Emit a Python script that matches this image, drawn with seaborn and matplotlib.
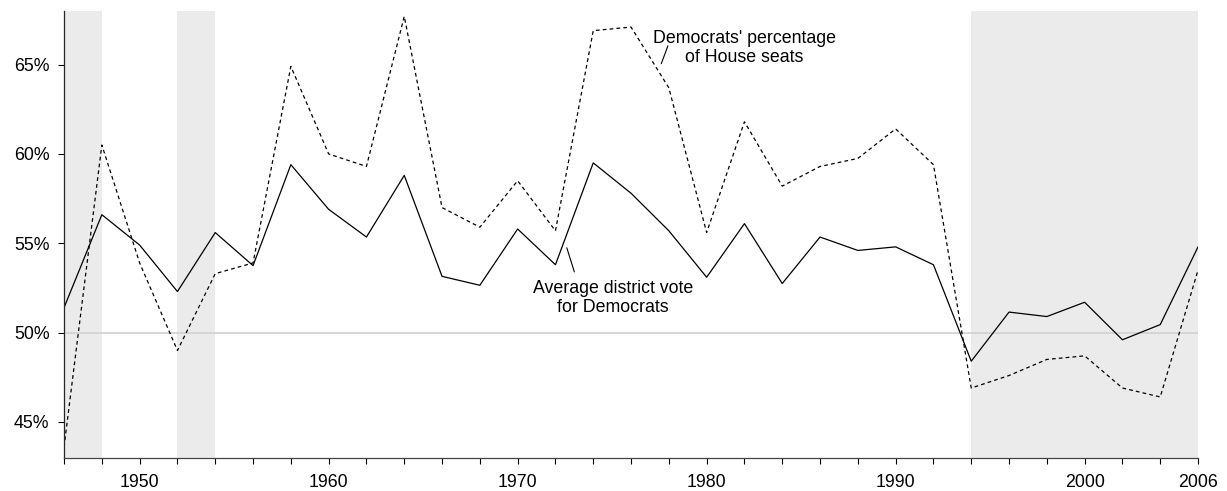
import numpy as np
import pandas as pd
import matplotlib
matplotlib.use('Agg')
import matplotlib.pyplot as plt
import seaborn as sns

years = list(range(1946, 2008, 2))
vote_pct = [51.4, 56.6, 54.9, 52.3, 55.6, 53.75, 59.4, 56.9, 55.35, 58.8,
            53.15, 52.65, 55.8, 53.8, 59.5, 57.8, 55.7, 53.1, 56.1, 52.75,
            55.35, 54.6, 54.8, 53.8, 48.4, 51.15, 50.9, 51.7, 49.6, 50.45, 54.8]
seat_pct = [43.6, 60.5, 53.9, 49.0, 53.3, 53.9, 64.9, 60.0, 59.3, 67.7,
            57.0, 55.9, 58.5, 55.7, 66.9, 67.1, 63.7, 55.6, 61.8, 58.2,
            59.3, 59.75, 61.4, 59.4, 46.9, 47.6, 48.5, 48.7, 46.9, 46.4, 53.5]
shaded_spans = [(1946, 1948), (1952, 1954), (1994, 2006)]
ytick_vals = [45, 50, 55, 60, 65]
xtick_labels = [1950, 1960, 1970, 1980, 1990, 2000, 2006]

df = pd.DataFrame({'year': years, 'vote': vote_pct, 'seats': seat_pct})

sns.set_style('ticks')
plt.rcParams['font.family'] = ['Liberation Sans', 'DejaVu Sans']
plt.rcParams['font.size'] = 12.8
plt.rcParams['text.color'] = 'black'

fig = plt.figure(figsize=(12.27, 4.91), dpi=100)
ax = fig.add_axes([0.0522, 0.0678, 0.9242, 0.9098])

for a, b in shaded_spans:
    ax.axvspan(a, b, color='#ebebeb', lw=0, zorder=0)
ax.axhline(50, color='#d3d3d3', lw=1.3, zorder=1)

sns.lineplot(data=df, x='year', y='vote', ax=ax, color='black', lw=0.9)
sns.lineplot(data=df, x='year', y='seats', ax=ax, color='black', lw=0.9,
             linestyle=(0, (3, 2.5)))

ax.set_xlim(1946, 2006)
ax.set_ylim(43, 68)
ax.set_xticks(years)
ax.set_xticklabels([str(y) if y in xtick_labels else '' for y in years])
ax.set_yticks(ytick_vals)
ax.set_yticklabels([f'{v}%' for v in ytick_vals])
ax.set_xlabel('')
ax.set_ylabel('')
ax.tick_params(direction='out', length=4.5, width=0.8, colors='black',
               labelsize=12.8)
ax.tick_params(axis='x', pad=7)
ax.tick_params(axis='y', pad=6)
sns.despine(ax=ax)
ax.spines['left'].set_linewidth(0.9)
ax.spines['bottom'].set_linewidth(0.9)
ax.spines['bottom'].set_color('#444444')

ax.text(1982.0, 65.95, "Democrats' percentage\nof House seats", ha='center',
        va='center', fontsize=12.8, linespacing=1.15)
ax.plot([1977.95, 1977.6], [66.05, 65.05], color='black', lw=0.8)
ax.text(1975.05, 51.95, "Average district vote\nfor Democrats", ha='center',
        va='center', fontsize=12.8, linespacing=1.15)
ax.plot([1972.6, 1973.0], [54.75, 53.4], color='black', lw=0.8)

fig.savefig('out.png', dpi=100)
